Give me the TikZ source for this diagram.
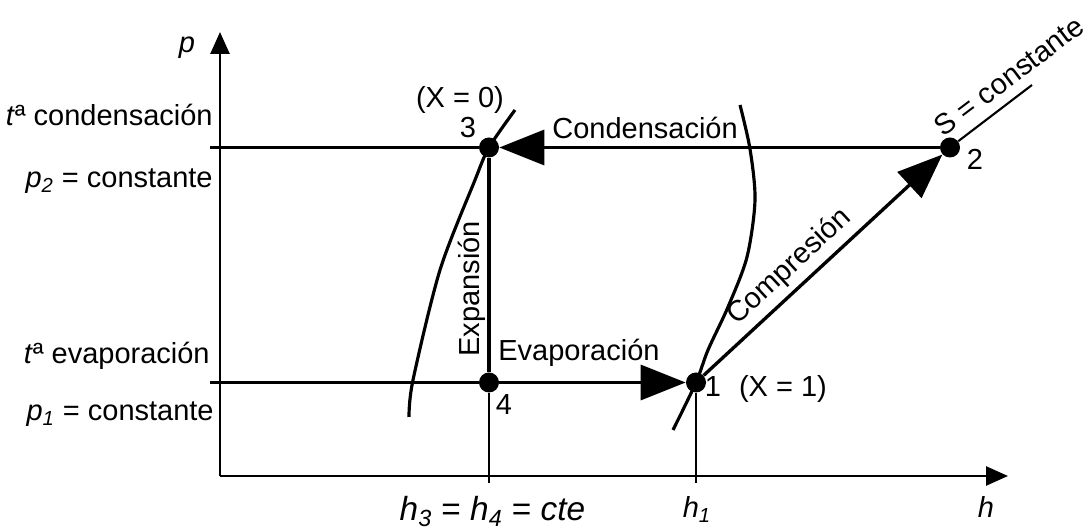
\documentclass[tikz,border=0pt]{standalone}
\usepackage{fontspec}
\setmainfont{Liberation Sans}
\usetikzlibrary{arrows.meta}

\tikzset{
  axis/.style={line width=1.5pt, -{Triangle[length=0.44cm, width=0.38cm]}},
  process/.style={line width=1.9pt, -{Triangle[length=0.9cm, width=0.7cm]}},
  thickline/.style={line width=1.9pt},
  thinline/.style={line width=1.2pt},
  satcurve/.style={line width=1.8pt},
  dot/.style={circle, fill=black, inner sep=0pt, minimum size=0.4cm},
  lbl/.style={anchor=base east, inner sep=0pt}
}

\begin{document}
\begin{tikzpicture}[font=\fontsize{16.5}{19}\selectfont]
    \useasboundingbox (-4.4,-1.08) rectangle (17.36,9.52);

    % axes
    \coordinate (O) at (0,0);
    \coordinate (ptop) at (0,8.88);
    \coordinate (hend) at (15.76,0);
    \draw[axis] (O) -- (ptop);
    \draw[axis] (O) -- (hend);
    \node[anchor=base] (plbl) at (-0.66,8.46) {\textit{p}};
    \node[anchor=base] (hlbl) at (15.32,-0.84) {\textit{h}};

    % states
    \node[dot] (s1) at (9.52,1.87) {};
    \node[dot] (s2) at (14.6,6.57) {};
    \node[dot] (s3) at (5.38,6.57) {};
    \node[dot] (s4) at (5.38,1.87) {};

    % reference lines
    \coordinate (p2left) at (-0.2,6.57);
    \coordinate (p1left) at (-0.2,1.87);
    \coordinate (h34tick) at (5.38,-0.14);
    \coordinate (h1tick) at (9.52,-0.14);
    \coordinate (sext) at (16.24,7.82);
    \draw[thinline] (p2left) -- (s3);
    \draw[thinline] (p1left) -- (s4);
    \draw[thinline] (s4) -- (h34tick);
    \draw[thinline] (s1) -- (h1tick);
    \draw[thinline] (s2) -- (sext);

    % saturation curves
    \draw[satcurve] plot[smooth] coordinates {(3.78,1.18) (3.86,1.92) (4.4,4.12) (5.1,5.92) (5.38,6.57) (5.9,7.32)};
    \draw[satcurve] plot[smooth] coordinates {(10.4,7.42) (10.6,6.54) (10.7,5.52) (10.54,4.38) (10.16,3.38) (9.76,2.52) (9.52,1.87) (9.06,0.92)};

    % cycle
    \draw[process] (s2) -- (s3);
    \draw[thickline] (s3) -- (s4);
    \draw[process] (s4) -- (s1);
    \draw[process] (s1) -- node[sloped, above, pos=0.42] (lcomp) {Compresión} (s2);

    \node[anchor=base west, inner sep=0pt] (lcond) at (6.64,6.75) {Condensación};
    \node[anchor=base west, inner sep=0pt] (levap) at (5.56,2.3) {Evaporación};
    \node[anchor=base west, inner sep=0pt, rotate=90] (lexp) at (5.18,2.38) {Expansión};
    \node[rotate=37, inner sep=0pt] (lsent) at (15.78,8.0) {S = constante};

    % state labels
    \node[anchor=base] (n3) at (4.96,6.76) {3};
    \node[anchor=base] (x0) at (4.8,7.36) {(X = 0)};
    \node[anchor=base] (n2) at (15.1,6.12) {2};
    \node[anchor=base] (n1) at (9.86,1.58) {1};
    \node[anchor=base] (x1) at (11.26,1.58) {(X = 1)};
    \node[anchor=base] (n4) at (5.68,1.22) {4};

    % left labels
    \node[lbl] (tcond) at (-0.14,7.0) {\textit{t}ª condensación};
    \node[lbl] (p2lbl) at (-0.14,5.76) {\textit{p}\textsubscript{\textit{2}} = constante};
    \node[lbl] (tevap) at (-0.2,2.24) {\textit{t}ª evaporación};
    \node[lbl] (p1lbl) at (-0.12,1.1) {\textit{p}\textsubscript{\textit{1}} = constante};

    % bottom labels
    \node[anchor=base] (h34lbl) at (5.45,-0.9) {\fontsize{19}{21}\selectfont\textit{h}\textsubscript{\textit{3}} = \textit{h}\textsubscript{\textit{4}} = \textit{cte}};
    \node[anchor=base] (h1lbl) at (9.54,-0.84) {\textit{h}\textsubscript{\textit{1}}};
\end{tikzpicture}
\end{document}
